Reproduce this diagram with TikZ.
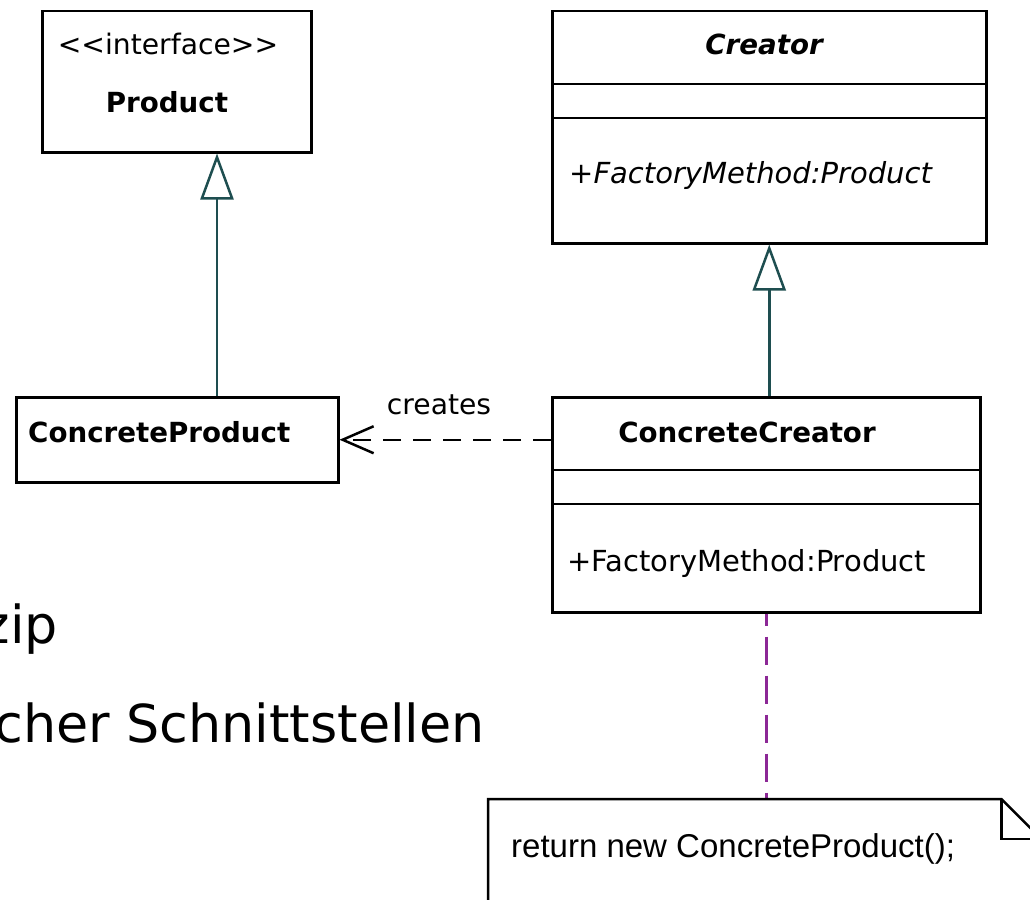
\documentclass[tikz,border=0pt]{standalone}
\usepackage{fontspec}
\usetikzlibrary{arrows.meta,calc}
\setmainfont{DejaVu Sans}
\newfontfamily\notefont{Liberation Sans}
\definecolor{genteal}{RGB}{30,78,80}
\definecolor{notepurple}{RGB}{140,40,150}
\begin{document}
\begin{tikzpicture}[x=1pt,y=-1pt,
  umlbox/.style={draw=black,line width=2.5pt,fill=white,inner sep=0pt,anchor=north west},
  sep/.style={draw=black,line width=2.5pt},
  reg/.style={font=\fontsize{28.2}{34}\selectfont,inner sep=0pt},
  opreg/.style={font=\fontsize{29}{34}\selectfont,inner sep=0pt,anchor=base west},
  opit/.style={font=\fontsize{29}{34}\selectfont\itshape,inner sep=0pt,anchor=base west},
  bld/.style={font=\fontsize{27.7}{34}\selectfont\bfseries,inner sep=0pt},
  slide/.style={font=\fontsize{52.3}{60}\selectfont,inner sep=0pt,anchor=base east},
  gen/.style={draw=genteal,line width=2.5pt,
    -{Triangle[open,length=46pt,width=33pt,line width=2.5pt,fill=white]}},
  dep/.style={draw=black,line width=2.5pt,dash pattern=on 18pt off 12pt,
    -{Straight Barb[length=31pt,width=27pt,line width=2.5pt]}},
  noteline/.style={draw=notepurple,line width=2.5pt,dash pattern=on 28pt off 11pt,dash phase=16pt},
  notebox/.style={draw=black,line width=2.5pt,fill=white},
]
\useasboundingbox (0,0) rectangle (1030,899);
\clip (0,0) rectangle (1030,899);

% slide text behind the diagram
\node[slide] (slideA) at (58,643) {zip};
\node[slide] (slideB) at (485,742) {cher Schnittstellen};

% Product interface
\node[umlbox,minimum width=269pt,minimum height=141pt] (prod) at (41,10) {};
\node[reg,anchor=base] (prodst) at (168,55) {<\kern0pt<interface>\kern0pt>};
\node[bld,anchor=base] (prodname) at (167,112) {Product};

% Creator
\node[umlbox,minimum width=434pt,minimum height=232pt] (creator) at (551,10) {};
\draw[sep] (creator.west |- 0,84) -- (creator.east |- 0,84);
\draw[sep] (creator.west |- 0,118) -- (creator.east |- 0,118);
\node[bld,anchor=base,font=\fontsize{27.7}{34}\selectfont\bfseries\itshape] (creatorname) at (764,55) {Creator};
\node[opit] (creatorop) at (569,183) {+FactoryMethod:Product};

% ConcreteProduct
\node[umlbox,minimum width=322pt,minimum height=85pt] (cp) at (15,396) {};
\node[bld,anchor=base west] (cpname) at (28,442) {ConcreteProduct};

% ConcreteCreator
\node[umlbox,minimum width=428pt,minimum height=215pt] (ccr) at (551,396) {};
\draw[sep] (ccr.west |- 0,470) -- (ccr.east |- 0,470);
\draw[sep] (ccr.west |- 0,504) -- (ccr.east |- 0,504);
\node[bld,anchor=base] (ccrname) at (747,442) {ConcreteCreator};
\node[opreg] (ccrop) at (567,571) {+FactoryMethod:Product};

% generalisations
\coordinate (gx) at (217,0);
\draw[gen] (cp.north -| gx) -- (prod.south -| gx);
\draw[gen] (ccr.north -| creator.south) -- (creator.south);

% dependency
\draw[dep] (ccr.west |- cp.east) -- (cp.east);
\node[reg,anchor=base] (createslbl) at (439,414) {creates};

% note with folded corner
\node[anchor=north west,inner sep=0pt,minimum width=553pt,minimum height=160pt] (note) at (488,799) {};
\draw[noteline] (ccr.south) -- (note.north -| ccr.south);
\draw[notebox] (note.south west) -- (note.north west)
  -- ($(note.north east)+(-40,0)$) -- ($(note.north east)+(0,40)$) -- (note.south east);
\draw[sep] ($(note.north east)+(-40,0)$) -- ++(0,40) -- ++(40,0);
\node[inner sep=0pt,anchor=base west,font=\notefont\fontsize{33}{38}\selectfont] (notetext) at (511,857) {return new ConcreteProduct();};
\end{tikzpicture}
\end{document}
